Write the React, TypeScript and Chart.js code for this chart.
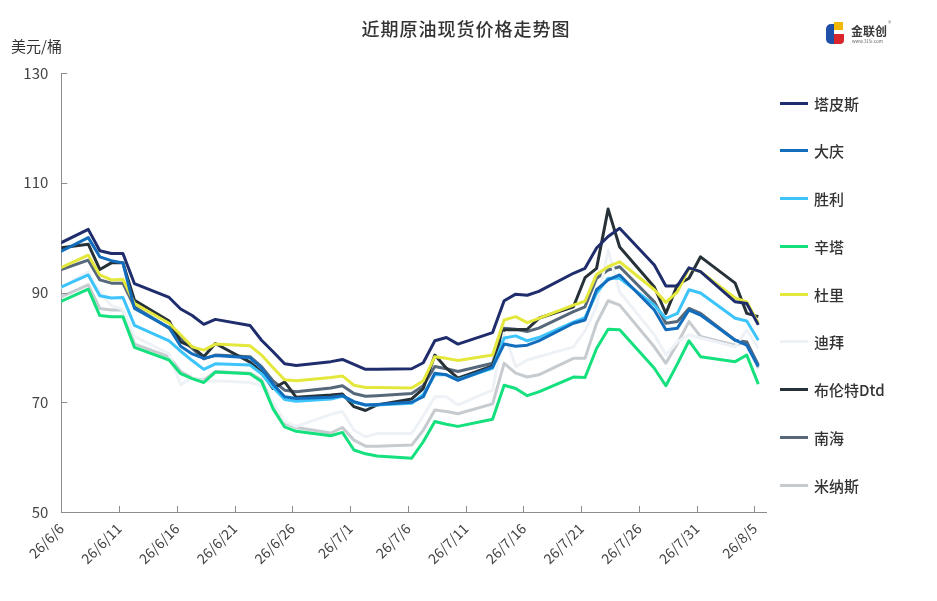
import { useEffect, useRef } from 'react';
import { Chart, registerables } from 'chart.js';

Chart.register(...registerables);

// trading days (2026), prices stamped 08:00
const dates = [
  '6/5', '6/8', '6/9', '6/10', '6/11', '6/12', '6/15', '6/16', '6/17', '6/18', '6/19',
  '6/22', '6/23', '6/24', '6/25', '6/26', '6/29', '6/30', '7/1', '7/2', '7/3',
  '7/6', '7/7', '7/8', '7/9', '7/10', '7/13', '7/14', '7/15', '7/16', '7/17',
  '7/20', '7/21', '7/22', '7/23', '7/24', '7/27', '7/28', '7/29', '7/30', '7/31',
  '8/3', '8/4', '8/5',
];

const tickLabels = [
  '26/6/6', '26/6/11', '26/6/16', '26/6/21', '26/6/26', '26/7/1', '26/7/6',
  '26/7/11', '26/7/16', '26/7/21', '26/7/26', '26/7/31', '26/8/5',
];

const tapis = [98.4, 101.5, 97.6, 97.1, 97.1, 91.6, 89.1, 87.0, 85.8, 84.2, 85.1, 84.0, 81.3, 79.2, 77.0, 76.7, 77.4, 77.8, 76.9, 76.0, 76.0, 76.1, 77.2, 81.2, 81.8, 80.6, 82.7, 88.5, 89.7, 89.5, 90.2, 93.5, 94.4, 98.1, 100.2, 101.7, 95.0, 91.2, 91.2, 94.5, 93.8, 88.3, 88.0, 84.1];
const daqing = [96.8, 100.0, 96.5, 95.8, 95.4, 87.1, 83.6, 80.2, 78.8, 78.0, 78.5, 78.1, 76.2, 73.3, 71.0, 70.7, 70.9, 71.2, 70.1, 69.5, 69.6, 70.0, 71.0, 75.3, 75.0, 74.0, 76.4, 80.6, 80.2, 80.4, 81.2, 84.4, 85.0, 90.5, 92.3, 93.2, 86.8, 83.2, 83.5, 86.8, 85.9, 81.3, 80.4, 76.5];
const shengli = [90.4, 93.2, 89.4, 89.0, 89.1, 84.0, 81.2, 79.3, 77.6, 76.0, 77.0, 76.8, 75.2, 72.7, 70.5, 70.2, 70.6, 71.1, 70.0, 69.5, 69.5, 69.8, 71.4, 75.0, 75.0, 74.1, 76.2, 81.7, 82.1, 81.2, 81.8, 84.6, 85.4, 89.9, 92.6, 92.6, 87.7, 85.3, 86.2, 90.5, 89.9, 85.3, 84.8, 81.3];
const cinta = [87.8, 90.6, 85.8, 85.6, 85.6, 80.0, 77.7, 75.2, 74.3, 73.6, 75.5, 75.2, 73.8, 68.8, 65.5, 64.7, 63.9, 64.5, 61.3, 60.6, 60.2, 59.8, 62.8, 66.5, 66.0, 65.6, 66.9, 73.1, 72.5, 71.2, 71.9, 74.6, 74.5, 79.8, 83.3, 83.2, 76.2, 73.0, 77.0, 81.2, 78.3, 77.4, 78.6, 73.3];
const duri = [93.9, 96.8, 93.2, 92.3, 92.4, 88.0, 84.4, 82.3, 80.1, 79.5, 80.6, 80.3, 78.6, 76.3, 74.1, 73.9, 74.5, 74.8, 73.1, 72.7, 72.7, 72.6, 73.9, 78.3, 78.0, 77.6, 78.6, 85.0, 85.6, 84.5, 85.3, 87.7, 88.4, 93.3, 94.7, 95.6, 90.5, 88.2, 90.1, 94.4, 93.8, 89.0, 88.3, 84.4];
const dubai = [90.0, 93.8, 90.0, 87.6, 86.9, 82.0, 78.8, 73.2, 74.5, 73.8, 73.9, 73.6, 73.0, 70.0, 66.5, 65.6, 67.8, 68.3, 64.9, 63.7, 64.3, 64.3, 67.5, 71.0, 71.0, 69.5, 72.2, 82.6, 76.5, 77.7, 78.3, 80.1, 83.0, 87.5, 97.7, 90.1, 82.3, 78.6, 81.0, 82.3, 81.7, 80.1, 83.2, 79.8];
const brent = [98.0, 98.8, 94.2, 95.4, 95.4, 88.6, 84.8, 81.0, 80.1, 78.3, 80.7, 77.3, 75.5, 72.5, 73.7, 70.9, 71.3, 71.5, 69.2, 68.5, 69.5, 70.6, 72.5, 78.6, 76.2, 74.4, 76.6, 83.2, 83.2, 83.3, 85.3, 87.4, 92.7, 94.4, 105.2, 98.3, 91.0, 86.2, 91.4, 92.6, 96.5, 91.7, 86.2, 85.6];
const nanhai = [93.7, 95.9, 92.3, 91.7, 91.7, 87.4, 83.5, 81.7, 79.8, 77.9, 78.6, 78.3, 76.5, 73.9, 72.2, 71.9, 72.6, 73.0, 71.6, 71.1, 71.2, 71.6, 73.0, 76.5, 76.1, 75.6, 77.1, 83.5, 83.3, 82.9, 83.5, 86.5, 87.4, 92.6, 94.1, 94.7, 88.3, 84.4, 84.7, 87.1, 86.2, 81.3, 81.0, 76.8];
const minas = [88.6, 91.4, 87.1, 86.8, 86.8, 80.6, 78.3, 75.6, 74.4, 74.0, 75.6, 75.3, 74.1, 69.4, 66.2, 65.4, 64.4, 65.4, 63.1, 62.0, 62.0, 62.2, 64.9, 68.6, 68.3, 67.9, 69.7, 77.1, 75.3, 74.6, 75.0, 78.0, 78.0, 84.4, 88.5, 87.7, 80.1, 77.1, 80.7, 84.7, 82.0, 80.4, 81.0, 76.2];

const seriesNames = ['塔皮斯', '大庆', '胜利', '辛塔', '杜里', '迪拜', '布伦特Dtd', '南海', '米纳斯'];
const seriesValues = [tapis, daqing, shengli, cinta, duri, dubai, brent, nanhai, minas];
const seriesColors = ['#1f2d6d', '#136dbd', '#3cc4fb', '#14e07d', '#e4e83c', '#eef2f6', '#263238', '#56687a', '#c6cbcf'];

const FONT = "'Noto Sans CJK SC', 'Noto Sans', sans-serif";
const AXIS = '#8c8c8c';

// days since 2026-06-06, plus the 08:00 stamp
function dayOf(s: string) {
  const [m, d] = s.split('/').map(Number);
  return (Date.UTC(2026, m - 1, d) - Date.UTC(2026, 5, 6)) / 86400000 + 8 / 24;
}

const innerTicks = {
  id: 'innerTicks',
  afterDraw(chart: any) {
    const { ctx, chartArea, scales } = chart;
    ctx.save();
    ctx.strokeStyle = AXIS;
    ctx.lineWidth = 1;
    ctx.beginPath();
    for (const t of scales.y.ticks) {
      if (t.value === scales.y.min) continue;
      const py = Math.round(scales.y.getPixelForValue(t.value)) + 0.5;
      ctx.moveTo(chartArea.left, py);
      ctx.lineTo(chartArea.left + 6, py);
    }
    for (const t of scales.x.ticks) {
      if (t.value === scales.x.min) continue;
      const px = Math.round(scales.x.getPixelForValue(t.value)) + 0.5;
      ctx.moveTo(px, chartArea.bottom);
      ctx.lineTo(px, chartArea.bottom - 6);
    }
    ctx.stroke();
    ctx.restore();
  },
};

export default function App() {
  const ref = useRef<HTMLCanvasElement>(null);

  useEffect(() => {
    document.body.style.margin = '0';
    if (!ref.current) return;
    const xs = dates.map(dayOf);
    const chart = new Chart(ref.current, {
      type: 'line',
      data: {
        datasets: seriesNames.map((name, i) => ({
          label: name,
          data: seriesValues[i].map((v, j) => ({ x: xs[j], y: v })),
          borderColor: seriesColors[i],
          backgroundColor: seriesColors[i],
          borderWidth: 3,
          pointRadius: 0,
          tension: 0,
          borderJoinStyle: 'round' as const,
        })),
      },
      options: {
        animation: false,
        responsive: true,
        maintainAspectRatio: false,
        layout: { padding: { left: 0, top: 73, right: 171, bottom: 0 } },
        plugins: { legend: { display: false }, tooltip: { enabled: false } },
        scales: {
          x: {
            type: 'linear',
            min: 0,
            max: 61,
            afterFit: (s: any) => { s.height = 89; },
            grid: { display: false, drawTicks: false },
            border: { display: true, color: AXIS, width: 1 },
            ticks: {
              stepSize: 5,
              includeBounds: false,
              autoSkip: false,
              minRotation: 45,
              maxRotation: 45,
              padding: 8,
              color: '#444',
              font: { family: FONT, size: 14 },
              callback: (v: any) => tickLabels[Math.round(Number(v) / 5)] ?? '',
            },
          },
          y: {
            min: 50,
            max: 130,
            afterFit: (s: any) => { s.width = 61.3; },
            grid: { display: false, drawTicks: false },
            border: { display: true, color: AXIS, width: 1 },
            ticks: {
              stepSize: 20,
              padding: 13,
              color: '#444',
              font: { family: FONT, size: 15 },
            },
          },
        },
      },
      plugins: [innerTicks],
    });
    return () => chart.destroy();
  }, []);

  return (
    <div style={{ position: 'relative', width: 937, height: 601, fontFamily: FONT, color: '#333', background: '#fff' }}>
      <div style={{ position: 'absolute', left: 0, top: 0, width: 937, height: 601 }}>
        <canvas ref={ref} />
      </div>
      <div style={{ position: 'absolute', left: 0, width: 932, top: 15, textAlign: 'center', fontSize: 18, fontWeight: 500, letterSpacing: 1 }}>
        近期原油现货价格走势图
      </div>
      <div style={{ position: 'absolute', left: 11, top: 35, fontSize: 15 }}>美元/桶</div>
      {/* logo */}
      <div style={{ position: 'absolute', left: 826, top: 24, width: 8, height: 20, background: '#1f4fa8', borderRadius: '5px 0 0 5px' }} />
      <div style={{ position: 'absolute', left: 834, top: 22, width: 9, height: 8, background: '#f2b705' }} />
      <div style={{ position: 'absolute', left: 834, top: 34, width: 10, height: 10, background: '#d8262c', borderRadius: '0 0 4px 0' }} />
      <div style={{ position: 'absolute', left: 851, top: 22, fontSize: 12, fontWeight: 700, color: '#3a3a3a' }}>金联创</div>
      <div style={{ position: 'absolute', left: 852, top: 38, fontSize: 5, color: '#666', transform: 'scale(0.9)', transformOrigin: 'left top' }}>www.315i.com</div>
      <div style={{ position: 'absolute', left: 888, top: 18, fontSize: 7, color: '#888' }}>®</div>
      {/* legend */}
      {seriesNames.map((name, i) => (
        <div key={name} style={{ position: 'absolute', left: 780, top: 103 + i * 47.75 - 11, height: 22, display: 'flex', alignItems: 'center' }}>
          <div style={{ width: 28, height: 3, background: seriesColors[i], marginRight: 6 }} />
          <span style={{ fontSize: 15, fontWeight: 500 }}>{name}</span>
        </div>
      ))}
    </div>
  );
}
